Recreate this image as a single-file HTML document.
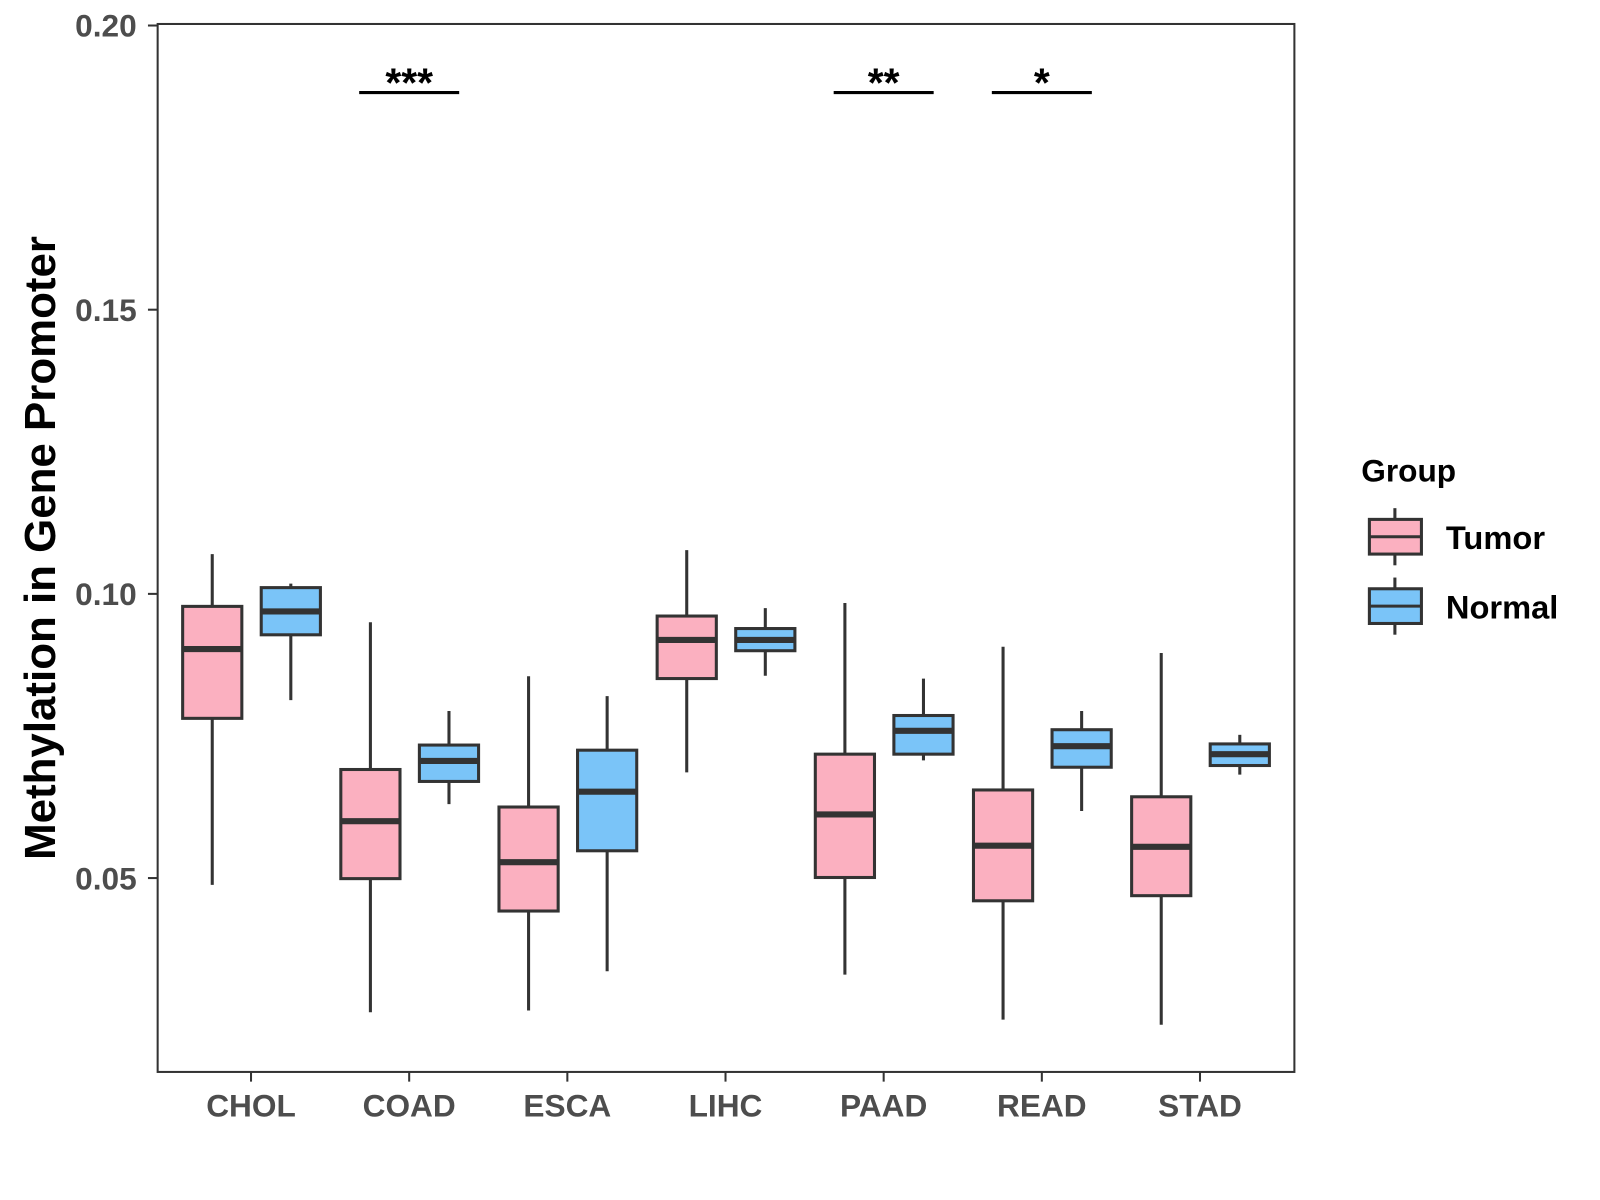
<!DOCTYPE html>
<html><head><meta charset="utf-8"><style>
body{margin:0;background:#fff;}
svg{display:block;font-family:"Liberation Sans",Arial,sans-serif;}
</style></head><body>
<svg id="chart" width="1600" height="1200" viewBox="0 0 1568 1176">
<rect x="0" y="0" width="1568" height="1176" fill="#fff"/>
<g id="marks"></g>
<rect x="154.5" y="23.5" width="1114" height="1027" fill="none" stroke="#333" stroke-width="2"/>
<g id="axes"></g>
<text transform="translate(54,537) rotate(-90)" text-anchor="middle" font-size="43" font-weight="bold" fill="#000">Methylation in Gene Promoter</text>
<g>
<text x="1334" y="472" font-size="31" font-weight="bold" fill="#000">Group</text>
<g>
<line x1="1367" y1="498" x2="1367" y2="554" stroke="#333" stroke-width="3"/>
<rect x="1342" y="509" width="51" height="34" fill="#FBB0C0" stroke="#333" stroke-width="3"/>
<line x1="1342" y1="526" x2="1393" y2="526" stroke="#333" stroke-width="3"/>
<text x="1417" y="538" font-size="32" font-weight="bold" fill="#000">Tumor</text>
</g>
<g>
<line x1="1367" y1="566" x2="1367" y2="622" stroke="#333" stroke-width="3"/>
<rect x="1342" y="577" width="51" height="34" fill="#7AC4F8" stroke="#333" stroke-width="3"/>
<line x1="1342" y1="594" x2="1393" y2="594" stroke="#333" stroke-width="3"/>
<text x="1417" y="606" font-size="32" font-weight="bold" fill="#000">Normal</text>
</g>
</g>
</svg>
<script>
const categories=["CHOL","COAD","ESCA","LIHC","PAAD","READ","STAD"];
// [low, q1, median, q3, high]
const tumorStats=[[0.0488,0.0781,0.0903,0.0978,0.1070],[0.0264,0.0499,0.0600,0.0691,0.0950],[0.0267,0.0442,0.0528,0.0625,0.0855],[0.0686,0.0851,0.0919,0.0961,0.1077],[0.0330,0.0501,0.0612,0.0718,0.0984],[0.0251,0.0460,0.0557,0.0655,0.0907],[0.0242,0.0469,0.0555,0.0643,0.0896]];
const normalStats=[[0.0813,0.0928,0.0969,0.1011,0.1018],[0.0630,0.0670,0.0706,0.0734,0.0794],[0.0336,0.0548,0.0652,0.0725,0.0820],[0.0856,0.0900,0.0919,0.0939,0.0975],[0.0707,0.0718,0.0759,0.0786,0.0851],[0.0618,0.0695,0.0732,0.0761,0.0794],[0.0682,0.0698,0.0718,0.0736,0.0752]];
const yTicks=[0.05,0.10,0.15,0.20];
const yTickLabels=["0.05","0.10","0.15","0.20"];
const sigCategories=["COAD","PAAD","READ"];
const sigLabels=["***","**","*"];
const sigLevel=0.1882;

const NS="http://www.w3.org/2000/svg";
function y(v){return 582-(v-0.10)*5570;}
function x(i){return 246+i*155;}
function mk(tag,attrs,parent){const e=document.createElementNS(NS,tag);for(const k in attrs)e.setAttribute(k,attrs[k]);parent.appendChild(e);return e;}
const marks=document.getElementById('marks'),axes=document.getElementById('axes');
function drawBox(cx,s,fill,name){
  const g=mk('g',{},marks);
  
  
  mk('line',{x1:cx,x2:cx,y1:y(s[4]),y2:y(s[0]),stroke:'#333','stroke-width':3},g);
  mk('rect',{x:cx-29,y:y(s[3]),width:58,height:y(s[1])-y(s[3]),fill:fill,stroke:'#333','stroke-width':3},g);
  mk('line',{x1:cx-29,x2:cx+29,y1:y(s[2]),y2:y(s[2]),stroke:'#333','stroke-width':6},g);
}
categories.forEach((c,i)=>{
  drawBox(x(i)-38,tumorStats[i],'#FBB0C0','box-tumor-'+c.toLowerCase());
  drawBox(x(i)+39,normalStats[i],'#7AC4F8','box-normal-'+c.toLowerCase());
  mk('line',{x1:x(i),x2:x(i),y1:1051,y2:1060,stroke:'#333','stroke-width':2},axes);
  const t=mk('text',{x:x(i),y:1094,'text-anchor':'middle','font-size':31,'font-weight':'bold',fill:'#4d4d4d'},axes);
  t.textContent=c;
  
  
});
yTicks.forEach((v,i)=>{
  mk('line',{x1:145,x2:154,y1:y(v),y2:y(v),stroke:'#333','stroke-width':2},axes);
  const t=mk('text',{x:134,y:y(v)+11,'text-anchor':'end','font-size':31,'font-weight':'bold',fill:'#4d4d4d'},axes);
  t.textContent=yTickLabels[i];
  
  
});
sigCategories.forEach((c,j)=>{
  const i=categories.indexOf(c);
  const g=mk('g',{},marks);
  
  
  mk('line',{x1:x(i)-49,x2:x(i)+49,y1:y(sigLevel),y2:y(sigLevel),stroke:'#000','stroke-width':3},g);
  const t=mk('text',{x:x(i),y:y(sigLevel)+4,'text-anchor':'middle','font-size':40,'font-weight':'bold',fill:'#000'},g);
  t.textContent=sigLabels[j];
});
</script>
</body></html>
